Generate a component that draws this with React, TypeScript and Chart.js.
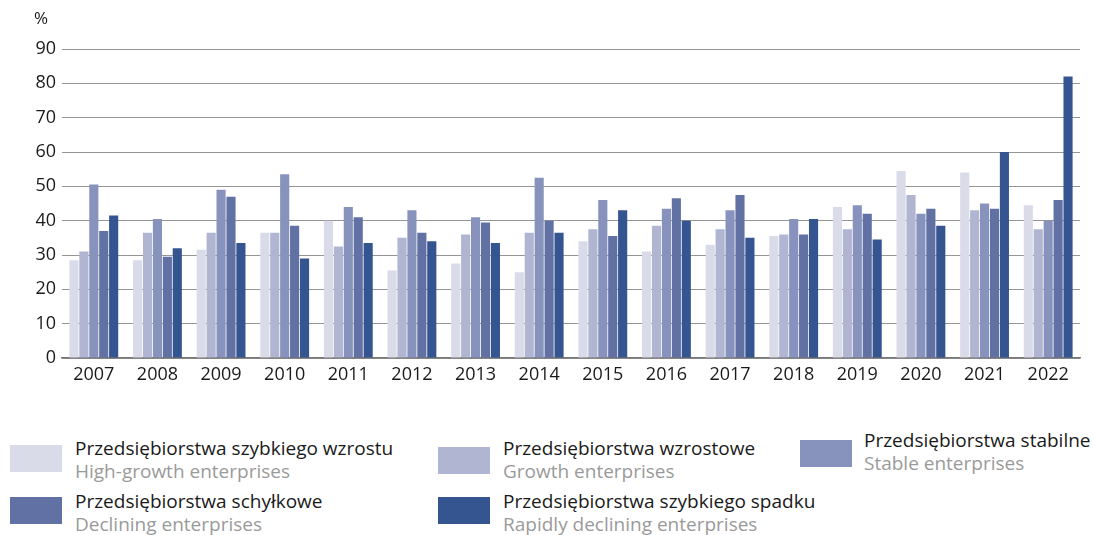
import React, { useEffect, useRef } from "react";
import { Chart, registerables } from "chart.js";

Chart.register(...registerables);

const years = ["2007","2008","2009","2010","2011","2012","2013","2014","2015","2016","2017","2018","2019","2020","2021","2022"];
const highGrowth = [28.5, 28.5, 31.5, 36.5, 40, 25.5, 27.5, 25, 34, 31, 33, 35.5, 44, 54.5, 54, 44.5];
const growth = [31, 36.5, 36.5, 36.5, 32.5, 35, 36, 36.5, 37.5, 38.5, 37.5, 36, 37.5, 47.5, 43, 37.5];
const stable = [50.5, 40.5, 49, 53.5, 44, 43, 41, 52.5, 46, 43.5, 43, 40.5, 44.5, 42, 45, 40];
const declining = [37, 29.5, 47, 38.5, 41, 36.5, 39.5, 40, 35.5, 46.5, 47.5, 36, 42, 43.5, 43.5, 46];
const rapidDecline = [41.5, 32, 33.5, 29, 33.5, 34, 33.5, 36.5, 43, 40, 35, 40.5, 34.5, 38.5, 60, 82];
const yTicks = [0, 10, 20, 30, 40, 50, 60, 70, 80, 90];

const seriesPl = ["Przedsiębiorstwa szybkiego wzrostu", "Przedsiębiorstwa wzrostowe", "Przedsiębiorstwa stabilne", "Przedsiębiorstwa schyłkowe", "Przedsiębiorstwa szybkiego spadku"];
const seriesEn = ["High-growth enterprises", "Growth enterprises", "Stable enterprises", "Declining enterprises", "Rapidly declining enterprises"];
const colors = ["#d9dbe8", "#b0b5d2", "#8893bd", "#6171a3", "#34558f"];

const FONT = "'Open Sans', sans-serif";

const legendPos = [
  { sx: 10, sy: 445, tx: 75, ty: 437 },
  { sx: 438, sy: 447, tx: 503, ty: 437 },
  { sx: 800, sy: 440, tx: 864, ty: 429 },
  { sx: 10, sy: 497, tx: 75, ty: 490 },
  { sx: 438, sy: 497, tx: 503, ty: 490 },
];

export default function App() {
  const ref = useRef<HTMLCanvasElement>(null);
  useEffect(() => {
    document.body.style.margin = "0";
    const data = [highGrowth, growth, stable, declining, rapidDecline];
    const chart = new Chart(ref.current!, {
      type: "bar",
      data: {
        labels: years,
        datasets: data.map((d, i) => ({
          label: seriesPl[i],
          data: d,
          backgroundColor: colors[i],
          borderWidth: 0,
          categoryPercentage: 0.78,
          barPercentage: 0.92,
        })),
      },
      options: {
        animation: false,
        responsive: false,
        layout: { padding: { top: 49, right: 13, left: 0, bottom: 0 } },
        plugins: { legend: { display: false }, tooltip: { enabled: false } },
        scales: {
          x: {
            grid: { display: false, drawTicks: false },
            border: { display: true, color: "#777", width: 1.5 },
            ticks: { color: "#1a1a1a", font: { family: FONT, size: 18 }, padding: 6 },
            afterFit: (s: any) => { s.width; s.height = 42; },
          },
          y: {
            min: 0,
            max: 90,
            afterBuildTicks: (s: any) => { s.ticks = yTicks.map((v) => ({ value: v })); },
            grid: { color: "#959595", lineWidth: 1, drawTicks: false },
            border: { display: false },
            ticks: { color: "#1a1a1a", font: { family: FONT, size: 18 }, padding: 6 },
            afterFit: (s: any) => { s.width = 62; },
          },
        },
      },
    });
    return () => chart.destroy();
  }, []);

  return (
    <div style={{ position: "relative", width: 1093, height: 535, overflow: "hidden", background: "#fff", fontFamily: FONT }}>
      <canvas ref={ref} width={1093} height={400} style={{ position: "absolute", left: 0, top: 0 }} />
      <div style={{ position: "absolute", left: 34, top: 6, fontSize: 17, color: "#1a1a1a" }}>%</div>
      {legendPos.map((p, i) => (
        <React.Fragment key={i}>
          <div style={{ position: "absolute", left: p.sx, top: p.sy, width: 52, height: 27, background: colors[i] }} />
          <div style={{ position: "absolute", left: p.tx, top: p.ty, fontSize: 19, lineHeight: "23px", whiteSpace: "nowrap" }}>
            <div style={{ color: "#1a1a1a" }}>{seriesPl[i]}</div>
            <div style={{ color: "#9a9a9a" }}>{seriesEn[i]}</div>
          </div>
        </React.Fragment>
      ))}
    </div>
  );
}
